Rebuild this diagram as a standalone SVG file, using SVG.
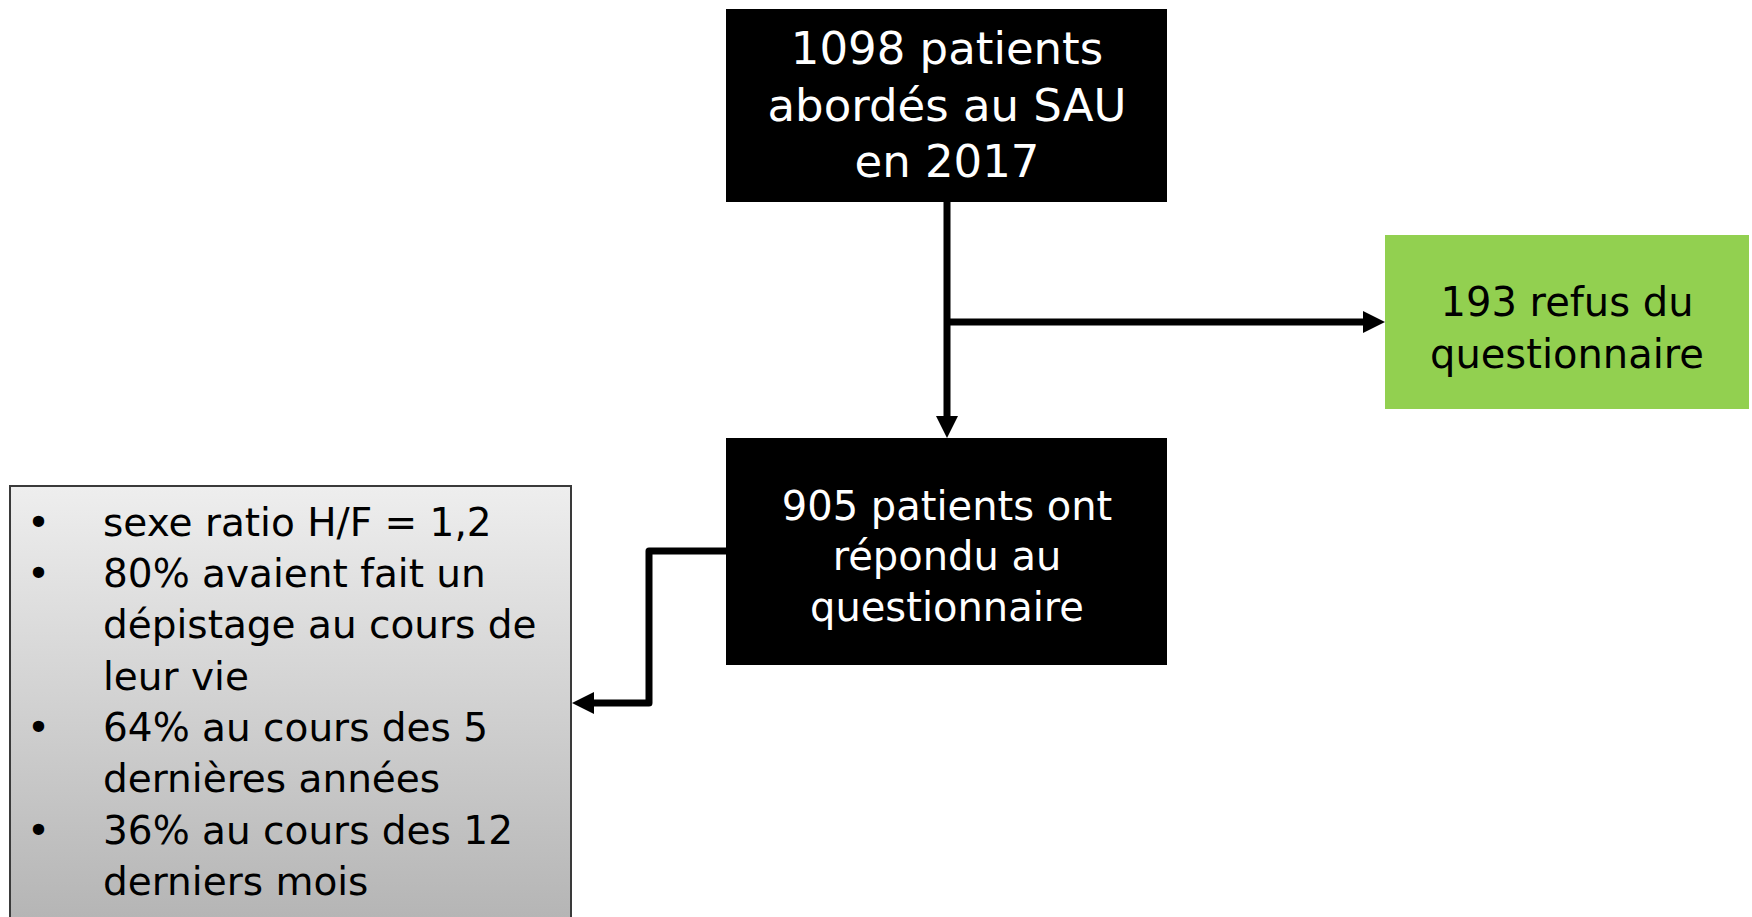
<svg xmlns="http://www.w3.org/2000/svg" width="1752" height="917" viewBox="0 0 1752 917">
<defs>
<linearGradient id="gray" x1="0" y1="0" x2="0" y2="1">
<stop offset="0" stop-color="#eeeeee"/>
<stop offset="1" stop-color="#b4b4b4"/>
</linearGradient>
<marker id="ah" viewBox="0 0 22 22" refX="0" refY="11" markerWidth="22" markerHeight="22" markerUnits="userSpaceOnUse" orient="auto">
<path d="M0,0 L22,11 L0,22 Z" fill="#000"/>
</marker>
<style>
text{font-family:"Comic Sans MS","DejaVu Sans",sans-serif}
.w{fill:#fff;text-anchor:middle}
.k{fill:#000;text-anchor:middle}
.b{fill:#000}
.c{fill:none;stroke:#000;stroke-width:7;stroke-linejoin:round}
</style>
</defs>
<rect width="1752" height="917" fill="#fff"/>
<g id="connectors">
<path class="c" d="M947,202 V416" marker-end="url(#ah)"/>
<path class="c" d="M947,322 H1363" marker-end="url(#ah)"/>
<path class="c" d="M726,551 H649 V703 H594" marker-end="url(#ah)"/>
</g>
<g id="n1">
<rect x="726" y="9" width="441" height="193" fill="#000"/>
<text class="w" font-size="45"><tspan x="947" y="64">1098 patients</tspan><tspan x="947" y="121">abordés au SAU</tspan><tspan x="947" y="177">en 2017</tspan></text>
</g>
<g id="n2">
<rect x="1385" y="235" width="364" height="174" fill="#92d050"/>
<text class="k" font-size="40"><tspan x="1567" y="316">193 refus du</tspan><tspan x="1567" y="368">questionnaire</tspan></text>
</g>
<g id="n3">
<rect x="726" y="438" width="441" height="227" fill="#000"/>
<text class="w" font-size="40"><tspan x="947" y="520">905 patients ont</tspan><tspan x="947" y="570">répondu au</tspan><tspan x="947" y="621">questionnaire</tspan></text>
</g>
<g id="n4">
<rect x="10" y="486" width="561" height="440" fill="url(#gray)" stroke="#3a3a3a" stroke-width="2"/>
<g font-size="39">
<text class="b" x="27" y="536">•</text>
<text class="b" x="27" y="587">•</text>
<text class="b" x="27" y="741">•</text>
<text class="b" x="27" y="844">•</text>
<text class="b" x="103" y="536">sexe ratio H/F = 1,2</text>
<text class="b" x="103" y="587">80% avaient fait un</text>
<text class="b" x="103" y="638">dépistage au cours de</text>
<text class="b" x="103" y="690">leur vie</text>
<text class="b" x="103" y="741">64% au cours des 5</text>
<text class="b" x="103" y="792">dernières années</text>
<text class="b" x="103" y="844">36% au cours des 12</text>
<text class="b" x="103" y="895">derniers mois</text>
</g>
</g>
</svg>
